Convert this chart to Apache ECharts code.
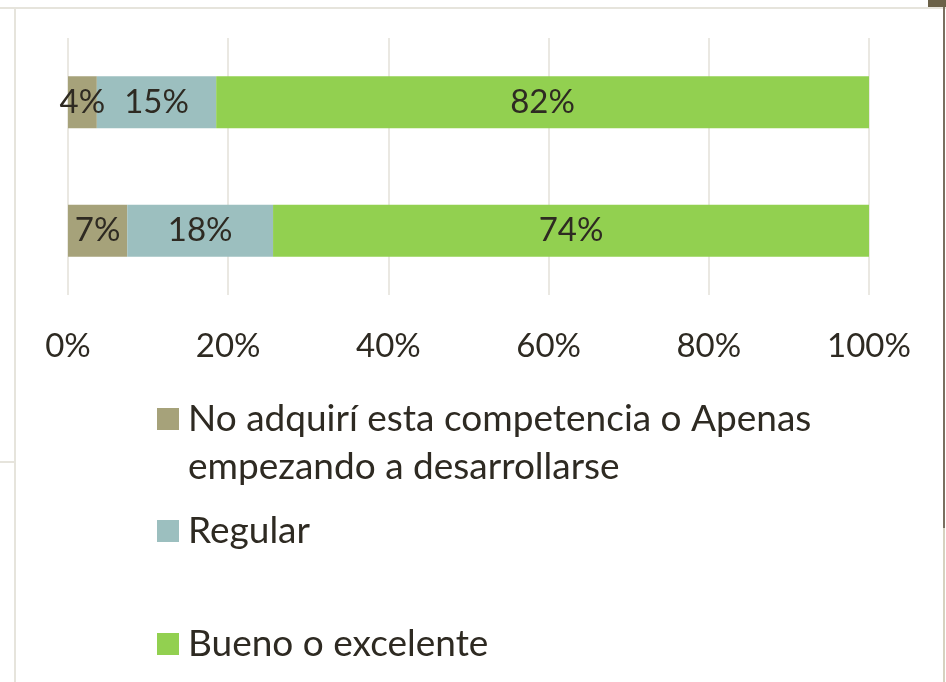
<!DOCTYPE html>
<html>
<head>
<meta charset="utf-8">
<script src="https://cdn.jsdelivr.net/npm/echarts@6/dist/echarts.min.js"></script>
<style>
  html, body { margin: 0; padding: 0; background: #fff; }
  #chart { width: 946px; height: 682px; }
</style>
</head>
<body>
<div id="chart"></div>
<script>
// categorías (barra superior primero)
const categories = ['Grupo 1', 'Grupo 2'];
const seriesNames = [
  'No adquirí esta competencia o Apenas\nempezando a desarrollarse',
  'Regular',
  'Bueno o excelente'
];
const noAdquiri = [3.6, 7.4];
const regular = [14.9, 18.2];
const bueno = [81.5, 74.4];
const ticks = [0, 20, 40, 60, 80, 100];

const colors = ['#a6a27a', '#9cbfbf', '#92d050'];
const textColor = '#2e2a22';
const font = 'Lato';

const chart = echarts.init(document.getElementById('chart'));

const makeSeries = (name, data, color) => ({
  name: name,
  type: 'bar',
  stack: 'total',
  data: data,
  barWidth: 52,
  itemStyle: { color: color },
  label: {
    show: true,
    position: 'inside',
    color: textColor,
    fontFamily: font,
    fontSize: 33,
    formatter: p => Math.round(p.value) + '%'
  },
  emphasis: { disabled: true }
});

// leyenda: una por elemento para poder colocarlas
// la primera lleva una línea vacía delante para que el cuadro quede a la altura de la primera línea
const legendTops = [342, 502, 615];
const legends = seriesNames.map((name, i) => ({
  orient: 'vertical',
  left: 152,
  top: legendTops[i],
  itemWidth: 22,
  itemHeight: 22,
  icon: 'rect',
  itemGap: 0,
  data: [name],
  formatter: n => (i === 0 ? ' \n' + n : n),
  textStyle: {
    color: textColor,
    fontFamily: font,
    fontSize: 37,
    lineHeight: 48,
    padding: [0, 0, 0, 4]
  },
  selectedMode: false
}));

const option = {
  animation: false,
  color: colors,
  grid: { left: 68, right: 77, top: 38, bottom: 387 },
  legend: legends,
  xAxis: {
    type: 'value',
    min: ticks[0],
    max: ticks[ticks.length - 1],
    interval: 20,
    axisLine: { show: false },
    axisTick: { show: false },
    axisLabel: {
      formatter: '{value}%',
      color: textColor,
      fontFamily: font,
      fontSize: 33,
      margin: 35
    },
    splitLine: { lineStyle: { color: '#e3e0d8', width: 1.5 } }
  },
  yAxis: {
    type: 'category',
    data: categories,
    inverse: true,
    axisLine: { show: false },
    axisTick: { show: false },
    axisLabel: { show: false },
    splitLine: { show: false }
  },
  graphic: [
    { type: 'rect', shape: { x: 0, y: 7, width: 946, height: 2 }, style: { fill: '#e6e4dc' }, silent: true },
    { type: 'rect', shape: { x: 14, y: 8, width: 2, height: 674 }, style: { fill: '#e6e4dc' }, silent: true },
    { type: 'rect', shape: { x: 0, y: 461, width: 14, height: 2 }, style: { fill: '#e6e4dc' }, silent: true },
    { type: 'rect', shape: { x: 928, y: 0, width: 18, height: 7 }, style: { fill: '#6b6148' }, silent: true },
    { type: 'rect', shape: { x: 943, y: 7, width: 2, height: 521 }, style: { fill: '#7a7060' }, silent: true },
    { type: 'rect', shape: { x: 943, y: 528, width: 2, height: 154 }, style: { fill: '#d6d2c0' }, silent: true }
  ],
  series: [
    makeSeries(seriesNames[0], noAdquiri, colors[0]),
    makeSeries(seriesNames[1], regular, colors[1]),
    makeSeries(seriesNames[2], bueno, colors[2])
  ]
};

chart.setOption(option);
</script>
</body>
</html>
